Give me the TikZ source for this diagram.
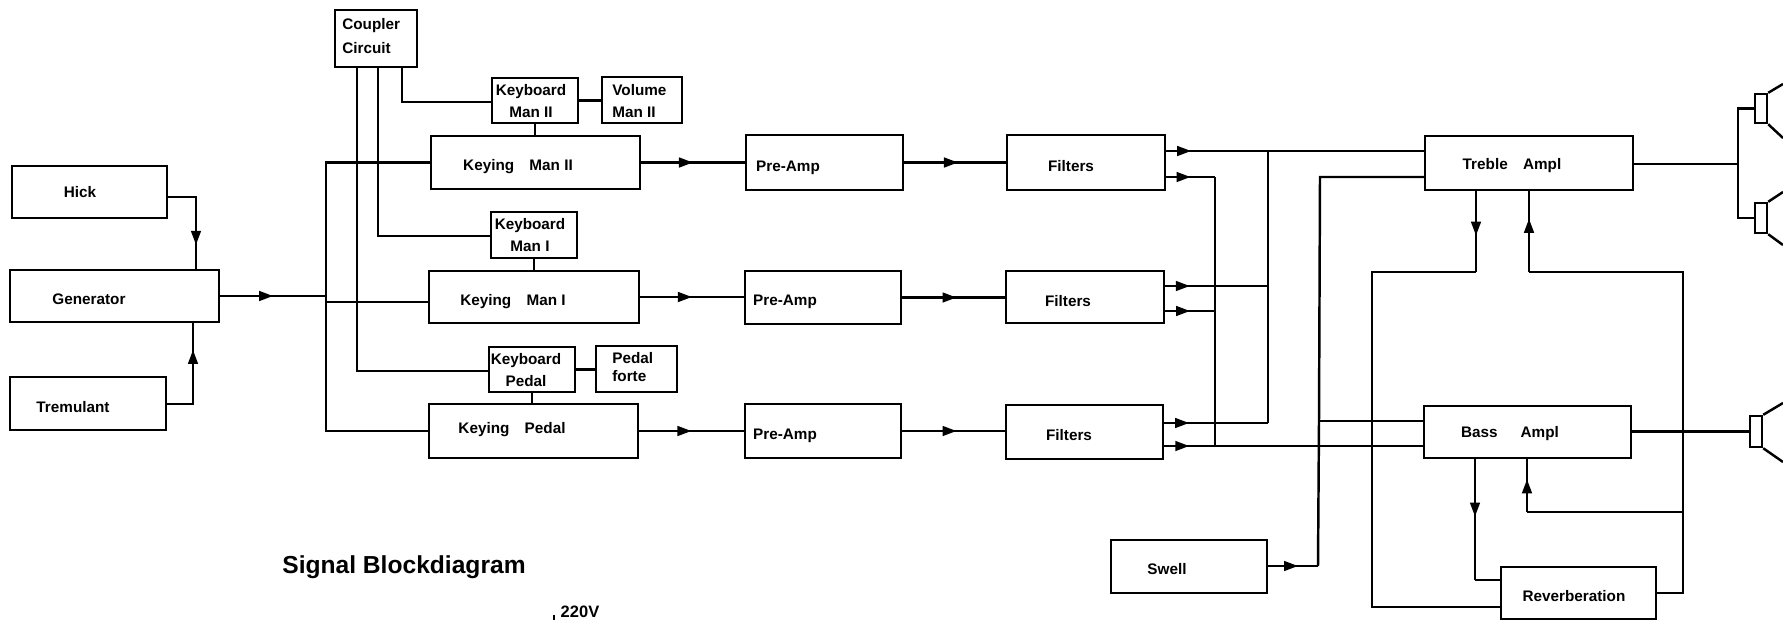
\documentclass[tikz,border=0pt]{standalone}
\usepackage{fontspec}
\setmainfont{Liberation Sans}
\usetikzlibrary{arrows.meta, calc, fit, positioning, decorations.markings}

\tikzset{
  blk/.style={draw, line width=1.4pt, inner sep=0pt},
  lbl/.style={inner sep=0pt, font=\bfseries\fontsize{8.7}{12.5}\selectfont},
  wire/.style={line width=1.4pt, line join=miter},
  arr/.style={decoration={markings, mark=at position #1 with {\arrow{>}}}, postaction={decorate}},
}

\begin{document}
\begin{tikzpicture}[x=.02cm, y=-.02cm, >={Triangle[length=8pt, width=5.5pt]}]
\useasboundingbox (0,0) rectangle (1783,620);

% left column
\node[blk, fit={(12,166)(167,218)}] (hick) {};
\node[blk, fit={(10,270)(219,322)}] (gen) {};
\node[blk, fit={(10,377)(166,430)}] (trem) {};
\node[lbl] (hicklab) at (80,192) {Hick};
\node[lbl] (genlab) at (89,299) {Generator};
\node[lbl] (tremlab) at (73,407) {Tremulant};

% keyboards
\node[blk, fit={(335,10)(417,67)}] (coup) {};
\node[blk, fit={(492,78)(578,123)}] (kbII) {};
\node[blk, fit={(602,77)(682,123)}] (vol) {};
\node[blk, fit={(491,212)(577,258)}] (kbI) {};
\node[blk, fit={(489,347)(575,392)}] (kbP) {};
\node[blk, fit={(596,346)(677,392)}] (forte) {};
\node[lbl, align=left, anchor=west, font=\bfseries\fontsize{8.7}{14}\selectfont] (couplab) at (342,36) {Coupler\\Circuit};
\node[lbl, align=center] (kbIIlab) at (531,101) {Keyboard\\Man II};
\node[lbl, align=left, anchor=west] (vollab) at (612,101) {Volume\\Man II};
\node[lbl, align=center] (kbIlab) at (530,235) {Keyboard\\Man I};
\node[lbl, align=center] (kbPlab) at (526,370) {Keyboard\\Pedal};
\node[lbl, align=left, anchor=west, font=\bfseries\fontsize{8.7}{10.5}\selectfont] (fortelab) at (612,367) {Pedal\\forte};

% three signal rows
\node[blk, fit={(431,136)(640,189)}] (kyII) {};
\node[blk, fit={(429,271)(639,323)}] (kyI) {};
\node[blk, fit={(429,404)(638,458)}] (kyP) {};
\node[blk, fit={(746,135)(903,190)}] (preII) {};
\node[blk, fit={(745,271)(901,324)}] (preI) {};
\node[blk, fit={(745,404)(901,458)}] (preP) {};
\node[blk, fit={(1007,135)(1165,190)}] (filII) {};
\node[blk, fit={(1006,271)(1164,323)}] (filI) {};
\node[blk, fit={(1006,405)(1163,459)}] (filP) {};
\node[lbl] (kyIIlab) at (518,167) {Keying\hspace{1em}Man II};
\node[lbl] (kyIlab) at (513,302) {Keying\hspace{1em}Man I};
\node[lbl] (kyPlab) at (512,430) {Keying\hspace{1em}Pedal};
\node[lbl] (preIIlab) at (788,168) {Pre-Amp};
\node[lbl] (preIlab) at (785,302) {Pre-Amp};
\node[lbl] (prePlab) at (785,436) {Pre-Amp};
\node[lbl] (filIIlab) at (1071,166) {Filters};
\node[lbl] (filIlab) at (1068,301) {Filters};
\node[lbl] (filPlab) at (1069,435) {Filters};

% amplifiers
\node[blk, fit={(1425,136)(1633,190)}] (treb) {};
\node[blk, fit={(1424,406)(1631,458)}] (bass) {};
\node[blk, fit={(1111,540)(1267,593)}] (swell) {};
\node[blk, fit={(1501,567)(1656,619)}] (rev) {};
\node[lbl] (treblab) at (1512,166) {Treble\hspace{1em}Ampl};
\node[lbl] (basslab) at (1510,434) {Bass\hspace{1.5em}Ampl};
\node[lbl] (swelllab) at (1167,569) {Swell};
\node[lbl] (revlab) at (1574,596) {Reverberation};

% speakers
\node[blk, fit={(1755,94)(1767,123)}] (spkA) {};
\node[blk, fit={(1755,203)(1767,233)}] (spkB) {};
\node[blk, fit={(1750,416)(1762,447)}] (spkC) {};

\node[inner sep=0pt, font=\bfseries\fontsize{14}{16}\selectfont] (title) at (404,567) {Signal Blockdiagram};
\node[lbl, font=\bfseries\fontsize{9.4}{11}\selectfont] (mains) at (580,612) {220V};

% junction points
\coordinate (busin) at (326,296);
\coordinate (kyIin) at (326,302);
\coordinate (hickc) at (196,197);
\coordinate (tremc) at (193,404);
\coordinate (coupa) at (402,102);
\coordinate (coupb) at (378,236);
\coordinate (coupc) at (357,371);
\coordinate (trA) at (1268,151);
\coordinate (trB) at (1268,286);
\coordinate (trC) at (1268,423);
\coordinate (baA) at (1215,177);
\coordinate (baB) at (1215,311);
\coordinate (baC) at (1215,446);
\coordinate (swA) at (1320,177);
\coordinate (swB) at (1319,421);
\coordinate (swC) at (1318,566);
\coordinate (fbA) at (1476,272);
\coordinate (fbB) at (1372,272);
\coordinate (fbC) at (1372,607);
\coordinate (fbD) at (1529,272);
\coordinate (fbE) at (1683,272);
\coordinate (fbF) at (1683,593);
\coordinate (fbG) at (1527,512);
\coordinate (fbH) at (1683,512);
\coordinate (fbI) at (1475,580);
\coordinate (hornA) at (1738,164);
\coordinate (mainsa) at (554,620);
\coordinate (mainsb) at (554,615);

% generator side
\draw[wire, arr=.76] (hick.east |- hickc) -- (hickc) -- (hickc |- gen.north);
\draw[wire, arr=.75] (trem.east |- tremc) -- (tremc) -- (tremc |- gen.south);
\draw[wire, arr=.5] (gen.east |- busin) -- (busin);
\draw[wire] (kyII.west) -- (busin |- kyII.west) -- (busin |- kyP.west) -- (kyP.west);
\draw[wire] (kyIin) -- (kyI.west |- kyIin);

% coupler
\draw[wire] (coupa |- coup.south) -- (coupa) -- (kbII.west |- coupa);
\draw[wire] (coupb |- coup.south) -- (coupb) -- (kbI.west |- coupb);
\draw[wire] (coupc |- coup.south) -- (coupc) -- (kbP.west |- coupc);
\draw[wire] (kbII.east) -- (vol.west |- kbII.east);
\draw[wire] (kbP.east) -- (forte.west |- kbP.east);
\draw[wire] (kbII.south) -- (kbII.south |- kyII.north);
\draw[wire] (kbI.south) -- (kbI.south |- kyI.north);
\draw[wire] (kbP.south) -- (kbP.south |- kyP.north);

% rows
\foreach \ky/\pre/\fil in {kyII/preII/filII, kyI/preI/filI, kyP/preP/filP} {
  \draw[wire, arr=.5] (\ky.east) -- (\pre.west |- \ky.east);
  \draw[wire, arr=.53] (\pre.east) -- (\fil.west |- \pre.east);
}

% filters to amplifiers
\draw[wire, arr=.097] (filII.east |- trA) -- (treb.west |- trA);
\draw[wire, arr=.24] (filI.east |- trB) -- (trB);
\draw[wire, arr=.24] (filP.east |- trC) -- (trC);
\draw[wire] (trA) -- (trC);
\draw[wire, arr=.5] (filII.east |- baA) -- (baA);
\draw[wire, arr=.5] (filI.east |- baB) -- (baB);
\draw[wire, arr=.097] (filP.east |- baC) -- (bass.west |- baC);
\draw[wire] (baA) -- (baC);

% swell
\draw[wire, arr=.6] (swell.east |- swC) -- (swC);
\draw[wire] (treb.west |- swA) -- (swA) -- (swB) -- (swC);
\draw[wire] (swB) -- (bass.west |- swB);

% reverberation loop
\draw[wire, arr=.55] (fbA |- treb.south) -- (fbA);
\draw[wire] (fbA) -- (fbB) -- (fbC) -- (rev.west |- fbC);
\draw[wire, arr=.66] (fbD) -- (fbD |- treb.south);
\draw[wire] (fbD) -- (fbE) -- (fbF) -- (rev.east |- fbF);
\draw[wire, arr=.62] (fbG) -- (fbG |- bass.south);
\draw[wire] (fbG) -- (fbH);
\draw[wire, arr=.475] (fbI |- bass.south) -- (fbI);
\draw[wire] (fbI) -- (rev.west |- fbI);

% speakers
\draw[wire] (treb.east |- hornA) -- (hornA);
\draw[wire] (spkA.west) -- (hornA |- spkA.west) -- (hornA |- spkB.west) -- (spkB.west);
\draw[wire] (bass.east |- spkC.west) -- (spkC.west);
\draw[wire] (spkA.north east) -- (1783,84);
\draw[wire] (spkA.south east) -- (1783,138);
\draw[wire] (spkB.north east) -- (1783,192);
\draw[wire] (spkB.south east) -- (1783,245);
\draw[wire] (spkC.north east) -- (1783,403);
\draw[wire] (spkC.south east) -- (1783,462);
\draw[wire] (mainsa) -- (mainsb);

\end{tikzpicture}
\end{document}
